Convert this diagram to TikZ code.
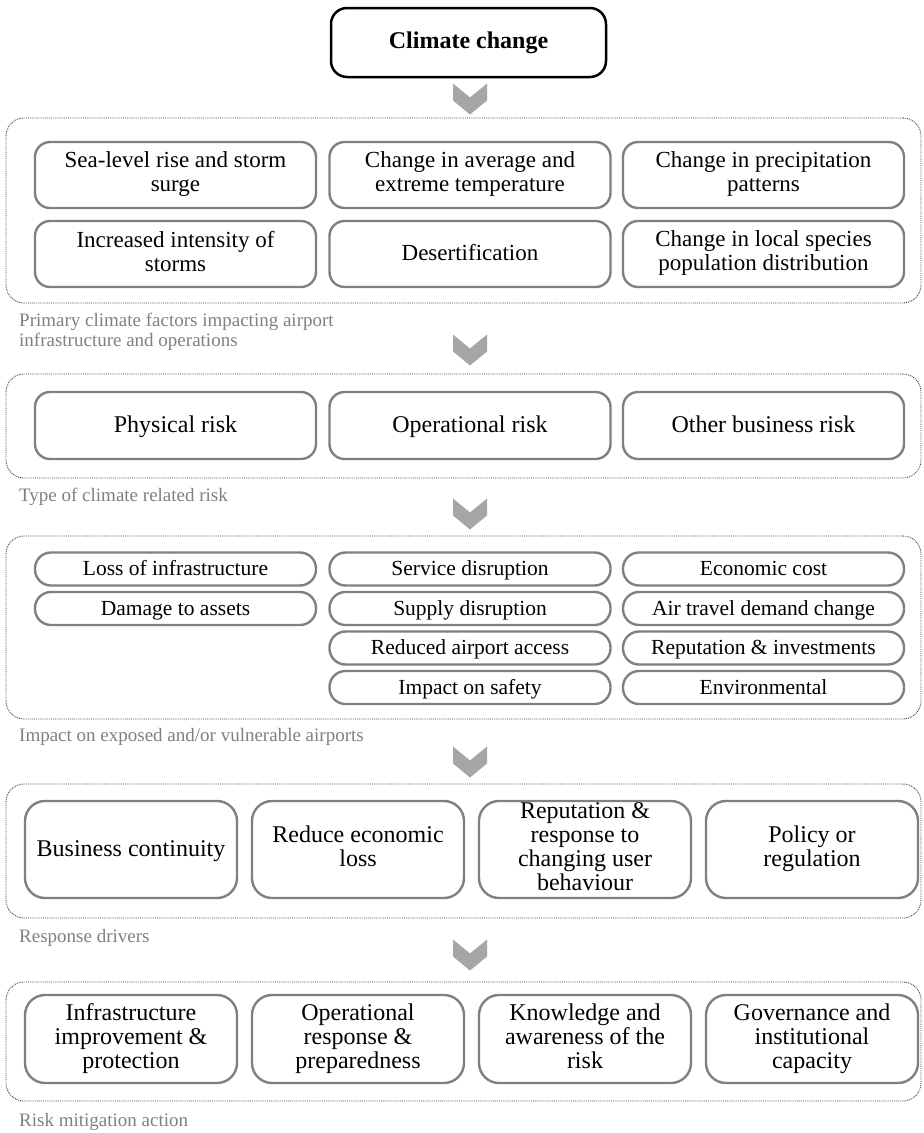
\documentclass[tikz,border=0pt]{standalone}
\usepackage{fontspec}
\setmainfont{Liberation Serif}
\newcommand\boxstrut{\rule[-6pt]{0pt}{25.5pt}}
\begin{document}
\begin{tikzpicture}[x=1pt, y=-1pt,
    title/.style={rectangle, draw=black, line width=2.5pt, rounded corners=16pt, minimum width=275pt, minimum height=69pt, font=\fontsize{24}{24}\selectfont\bfseries},
    region/.style={rectangle, draw=black!75, densely dotted, line width=0.9pt, rounded corners=18pt, minimum width=915pt},
    factor/.style={rectangle, draw=black!50, line width=2.4pt, rounded corners=15pt, minimum width=281pt, align=center, font=\fontsize{23}{24}\selectfont, execute at begin node=\boxstrut, execute at end node=\boxstrut},
    impact/.style={factor, rounded corners=16pt, minimum height=33pt, inner ysep=0pt, font=\fontsize{21.5}{24}\selectfont},
    action/.style={factor, rounded corners=20pt, minimum width=212pt, inner ysep=0pt, font=\fontsize{24}{24}\selectfont},
    caption/.style={anchor=west, inner sep=0pt, text=black!50, align=left, font=\fontsize{19}{20}\selectfont},
    chev/.pic={\fill[black!35] (-17,-15.5) -- (0,-1.5) -- (17,-15.5) -- (17,1.5) -- (0,15.5) -- (-17,1.5) -- cycle;}
]
    \useasboundingbox (0,0) rectangle (924,1133);

    % Top: the driver
    \node[title] (cc) at (468.5,42.5) {Climate change};
    \pic at (470,99) {chev};

    % Primary climate factors
    \node[region, minimum height=185pt] (r1) at (463.5,210.5) {};
    \node[factor, minimum height=66pt] (seal) at (175.5,175) {Sea-level rise and storm\\surge};
    \node[factor, minimum height=66pt] (temp) at (470,175) {Change in average and\\extreme temperature};
    \node[factor, minimum height=66pt] (prec) at (763.5,175) {Change in precipitation\\patterns};
    \node[factor, minimum height=66pt] (storm) at (175.5,254) {Increased intensity of\\storms};
    \node[factor, minimum height=66pt] (desert) at (470,254) {Desertification};
    \node[factor, minimum height=66pt] (species) at (763.5,254) {Change in local species\\population distribution};
    \node[caption] (c1) at (19,332) {Primary climate factors impacting airport\\infrastructure and operations};
    \pic at (470,350) {chev};

    % Type of risk
    \node[region, minimum height=104pt] (r2) at (463.5,426) {};
    \node[factor, minimum height=67pt, font=\fontsize{24}{24}\selectfont] (phys) at (175.5,425.5) {Physical risk};
    \node[factor, minimum height=67pt, font=\fontsize{24}{24}\selectfont] (oper) at (470,425.5) {Operational risk};
    \node[factor, minimum height=67pt, font=\fontsize{24}{24}\selectfont] (other) at (763.5,425.5) {Other business risk};
    \node[caption] (c2) at (19,497) {Type of climate related risk};
    \pic at (470,514) {chev};

    % Impacts
    \node[region, minimum height=183pt] (r3) at (463.5,627.5) {};
    \node[impact] (loss) at (175.5,569) {Loss of infrastructure};
    \node[impact] (damage) at (175.5,608.5) {Damage to assets};
    \node[impact] (service) at (470,569) {Service disruption};
    \node[impact] (supply) at (470,608.5) {Supply disruption};
    \node[impact] (access) at (470,648) {Reduced airport access};
    \node[impact] (safety) at (470,687.5) {Impact on safety};
    \node[impact] (cost) at (763.5,569) {Economic cost};
    \node[impact] (demand) at (763.5,608.5) {Air travel demand change};
    \node[impact] (repinv) at (763.5,648) {Reputation \& investments};
    \node[impact] (env) at (763.5,687.5) {Environmental};
    \node[caption] (c3) at (19,737) {Impact on exposed and/or vulnerable airports};
    \pic at (470,762) {chev};

    % Response drivers
    \node[region, minimum height=134pt] (r4) at (463.5,851) {};
    \node[action, minimum height=97pt] (cont) at (131,849.5) {Business continuity};
    \node[action, minimum height=97pt] (econ) at (358,849.5) {Reduce economic\\loss};
    \node[action, minimum height=97pt] (repu) at (585,849.5) {Reputation \&\\response to\\changing user\\behaviour};
    \node[action, minimum height=97pt] (policy) at (812,849.5) {Policy or\\regulation};
    \node[caption] (c4) at (19,938) {Response drivers};
    \pic at (470,955) {chev};

    % Mitigation
    \node[region, minimum height=119pt] (r5) at (463.5,1041.5) {};
    \node[action, minimum height=88pt] (infra) at (131,1039) {Infrastructure\\improvement \&\\protection};
    \node[action, minimum height=88pt] (prep) at (358,1039) {Operational\\response \&\\preparedness};
    \node[action, minimum height=88pt] (know) at (585,1039) {Knowledge and\\awareness of the\\risk};
    \node[action, minimum height=88pt] (gov) at (812,1039) {Governance and\\institutional\\capacity};
    \node[caption] (c5) at (19,1122) {Risk mitigation action};
\end{tikzpicture}
\end{document}
